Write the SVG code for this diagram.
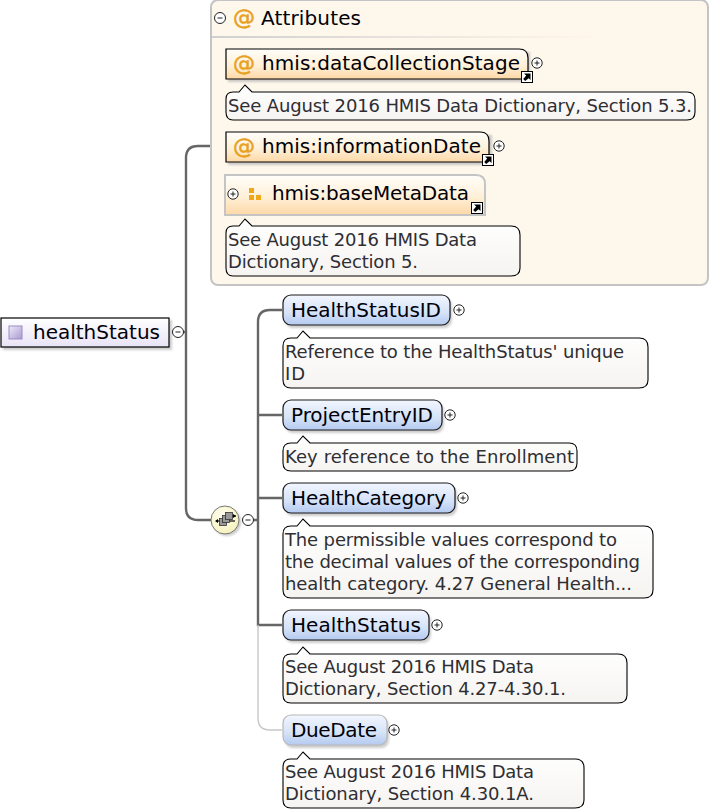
<svg xmlns="http://www.w3.org/2000/svg" width="710" height="812" viewBox="0 0 710 812">
<style>
text{font-family:"DejaVu Sans",sans-serif}
.n{font-size:20px;fill:#000008}
.c{font-size:18px;fill:#2e2e33}
.at{fill:url(#o);stroke:#000;stroke-width:1.2}
.el{fill:url(#b);stroke:#1a1a1a;stroke-width:1.2}
.opt{fill:url(#b);stroke:#b8b8b8;stroke-width:1.2}
.cm{fill:url(#w);stroke:#000;stroke-width:1.1}
.sh{fill:#aaa;opacity:.6;filter:url(#blur)}
.w{fill:none;stroke:#666;stroke-width:2.4}
.wl{fill:none;stroke:#c8c8c8;stroke-width:1.4}
.t circle{fill:#fff;stroke:#222;stroke-width:1}
.t path{stroke:#222;stroke-width:1;fill:none}
.ic{font-size:22px;fill:#e8a020;stroke:#e8a020;stroke-width:.5}
</style>
<defs>
<filter id="blur" x="-10%" y="-20%" width="120%" height="140%"><feGaussianBlur stdDeviation="1"/></filter>
<linearGradient id="o" x1="0" y1="0" x2="0" y2="1"><stop offset="0" stop-color="#fffefa"/><stop offset=".55" stop-color="#fff0d8"/><stop offset="1" stop-color="#fdd8a6"/></linearGradient>
<linearGradient id="b" x1="0" y1="0" x2="0" y2="1"><stop offset="0" stop-color="#f2f6fe"/><stop offset=".6" stop-color="#d5e2f8"/><stop offset="1" stop-color="#b4caf0"/></linearGradient>
<linearGradient id="w" x1="0" y1="0" x2="0" y2="1"><stop offset="0" stop-color="#fff"/><stop offset="1" stop-color="#f6f4f1"/></linearGradient>
<linearGradient id="root" x1="0" y1="0" x2="0" y2="1"><stop offset="0" stop-color="#fff"/><stop offset="1" stop-color="#e8e3f5"/></linearGradient>
<linearGradient id="sq" x1="0" y1="0" x2="1" y2="1"><stop offset="0" stop-color="#efeaf8"/><stop offset="1" stop-color="#a999d0"/></linearGradient>
<linearGradient id="ln" x1="0" y1="0" x2="1" y2="0"><stop offset="0" stop-color="#d0d0d0"/><stop offset="1" stop-color="#fff6ea"/></linearGradient>
<radialGradient id="y" cx=".4" cy=".35" r=".8"><stop offset="0" stop-color="#fffef0"/><stop offset="1" stop-color="#f5efb4"/></radialGradient>
<g id="plus" class="t"><circle r="5.2"/><path d="M-2.5 0H2.5M0-2.5V2.5"/></g>
<g id="minus" class="t"><circle r="5.5"/><path d="M-2.5 0H2.5"/></g>
<g id="link"><rect x="-5.5" y="-5.5" width="11" height="11" fill="#fff" stroke="#000" stroke-width="1"/><path d="M-3-3.5H3.5V3L1.6 1.2-1.8 4-3.8 2-.8-1.6Z" fill="#000"/></g>
</defs>
<rect width="710" height="812" fill="#fff"/>
<g id="connectors">
<path class="w" d="M210 146H198Q186 146 186 158V508Q186 520 198 520H212"/>
<path class="w" d="M172 332H186"/>
<path class="w" d="M282 310H270Q258 310 258 322V625H282"/>
<path class="w" d="M258 415H282M258 498H282M254 520H258"/>
<path class="wl" d="M258 625V718Q258 730 270 730H282"/>
</g>
<g id="attributes">
<rect x="211" y="0" width="497" height="285" rx="7" fill="#fef7ec" stroke="#c4c4c4" stroke-width="2"/>
<rect x="212" y="36" width="380" height="2" fill="url(#ln)"/>
<use href="#minus" x="220" y="18"/>
<text class="ic" x="233" y="25">@</text>
<text x="261" y="25" class="n" textLength="100">Attributes</text>
</g>
<g id="dataCollectionStage">
<path class="sh" d="M228 52H530V82H228Z"/>
<path class="at" d="M226 79V49H519Q528 49 528 58V79Z"/>
<text class="ic" x="233" y="71">@</text>
<text class="n" x="262" y="70" textLength="258">hmis:dataCollectionStage</text>
<use href="#link" x="527" y="77"/>
<use href="#plus" x="537" y="63"/>
<path class="cm" d="M233 92H239L245 85 252 92H687Q695 92 695 100V112Q695 120 687 120H233Q226 120 226 112V99Q226 92 233 92Z"/>
<text class="c" x="228" y="112" textLength="464">See August 2016 HMIS Data Dictionary, Section 5.3.</text>
</g>
<g id="informationDate">
<path class="sh" d="M228 135H492V165H228Z"/>
<path class="at" d="M226 162V132H480Q489 132 489 141V162Z"/>
<text class="ic" x="233" y="154">@</text>
<text class="n" x="262" y="153" textLength="219">hmis:informationDate</text>
<use href="#link" x="488" y="160"/>
<use href="#plus" x="499" y="146"/>
</g>
<g id="baseMetaData">
<path d="M225 215V175H476Q485 175 485 184V215Z" fill="url(#o)" stroke="#c4c4c4" stroke-width="2"/>
<use href="#plus" x="233" y="194"/>
<path d="M249 188h5v5h-5zM249 195h5v5h-5zM256 195h5v5h-5z" fill="#f0a818"/>
<text class="n" x="272" y="200" textLength="197">hmis:baseMetaData</text>
<use href="#link" x="477" y="208"/>
<path class="cm" d="M233 226H239L245 219 252 226H511Q520 226 520 235V268Q520 276 511 276H233Q226 276 226 268V233Q226 226 233 226Z"/>
<text class="c" x="228" y="246" textLength="249">See August 2016 HMIS Data</text>
<text class="c" x="228" y="268" textLength="190">Dictionary, Section 5.</text>
</g>
<g id="healthStatus">
<rect x="3" y="320" width="169" height="30" class="sh"/>
<rect x="1" y="318" width="168" height="29" fill="url(#root)" stroke="#000" stroke-width="1.2"/>
<rect x="9" y="326" width="13" height="13" fill="url(#sq)" stroke="#9a8cc4" stroke-width="1"/>
<text class="n" x="33" y="339" textLength="127">healthStatus</text>
<use href="#minus" x="178" y="332"/>
</g>
<g id="sequence">
<circle cx="227" cy="522" r="14" class="sh"/>
<circle cx="225" cy="520" r="14" fill="url(#y)" stroke="#777" stroke-width="1"/>
<path d="M216 521H235" stroke="#000" stroke-width="1.2"/>
<path d="M215 521l3-2v4zM236 516l-3-2v4z" fill="#000"/>
<path d="M231 516H236" stroke="#000" stroke-width="1.2"/>
<rect x="219.500" y="518.500" width="7" height="7" fill="#999" stroke="#333" stroke-width=".8"/>
<rect x="222.500" y="515.500" width="7" height="7" fill="#999" stroke="#333" stroke-width=".8"/>
<rect x="225.500" y="512.500" width="7" height="7" fill="#999" stroke="#333" stroke-width=".8"/>
<use href="#minus" x="248" y="520"/>
</g>
<g id="HealthStatusID">
<rect x="285" y="298" width="167" height="30" rx="8" class="sh"/>
<rect x="283" y="295" width="167" height="30" rx="8" class="el"/>
<text class="n" x="291" y="317" textLength="150">HealthStatusID</text>
<use href="#plus" x="459" y="310"/>
<path class="cm" d="M291 338H297L303 331 310 338H639Q648 338 648 347V380Q648 388 639 388H291Q283 388 283 380V346Q283 338 291 338Z"/>
<text class="c" x="285" y="358" textLength="339">Reference to the HealthStatus' unique</text>
<text class="c" x="285" y="380" textLength="20">ID</text>
</g>
<g id="ProjectEntryID">
<rect x="285" y="403" width="159" height="30" rx="8" class="sh"/>
<rect x="283" y="400" width="159" height="30" rx="8" class="el"/>
<text class="n" x="291" y="422" textLength="142">ProjectEntryID</text>
<use href="#plus" x="450" y="415"/>
<path class="cm" d="M291 443H297L303 436 310 443H569Q577 443 577 451V463Q577 471 569 471H291Q283 471 283 463V451Q283 443 291 443Z"/>
<text class="c" x="285" y="463" textLength="289">Key reference to the Enrollment</text>
</g>
<g id="HealthCategory">
<rect x="285" y="486" width="172" height="30" rx="8" class="sh"/>
<rect x="283" y="483" width="172" height="30" rx="8" class="el"/>
<text class="n" x="291" y="505" textLength="155">HealthCategory</text>
<use href="#plus" x="463" y="498"/>
<path class="cm" d="M291 526H297L303 519 310 526H644Q653 526 653 535V590Q653 598 644 598H291Q283 598 283 590V534Q283 526 291 526Z"/>
<text class="c" x="285" y="546" textLength="332">The permissible values correspond to</text>
<text class="c" x="285" y="568" textLength="355">the decimal values of the corresponding</text>
<text class="c" x="285" y="590" textLength="347">health category. 4.27 General Health...</text>
</g>
<g id="HealthStatus">
<rect x="285" y="613" width="146" height="30" rx="8" class="sh"/>
<rect x="283" y="610" width="146" height="30" rx="8" class="el"/>
<text class="n" x="291" y="632" textLength="130">HealthStatus</text>
<use href="#plus" x="437" y="625"/>
<path class="cm" d="M291 654H297L303 647 310 654H618Q627 654 627 663V695Q627 703 618 703H291Q283 703 283 695V662Q283 654 291 654Z"/>
<text class="c" x="285" y="673" textLength="249">See August 2016 HMIS Data</text>
<text class="c" x="285" y="695" textLength="281">Dictionary, Section 4.27-4.30.1.</text>
</g>
<g id="DueDate">
<rect x="285" y="718" width="104" height="30" rx="8" class="sh"/>
<rect x="283" y="715" width="104" height="30" rx="8" class="opt"/>
<text class="n" x="291" y="737" textLength="86">DueDate</text>
<use href="#plus" x="394" y="730"/>
<path class="cm" d="M291 759H297L303 752 310 759H575Q584 759 584 768V800Q584 808 575 808H291Q283 808 283 800V767Q283 759 291 759Z"/>
<text class="c" x="285" y="778" textLength="249">See August 2016 HMIS Data</text>
<text class="c" x="285" y="800" textLength="249">Dictionary, Section 4.30.1A.</text>
</g>
</svg>
